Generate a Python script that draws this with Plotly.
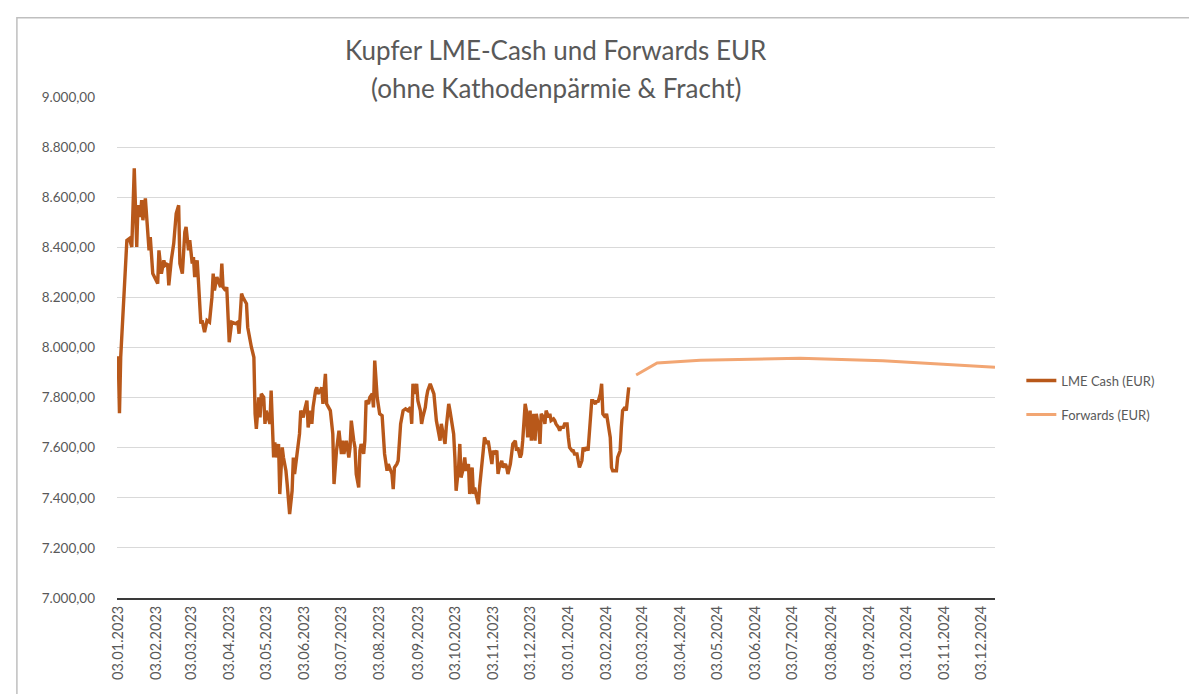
import pandas as pd
import plotly.graph_objects as go

# LME Cash (EUR): days since 03.01.2023 and values
cash_days = [0, 1, 2, 4, 5, 7, 9, 11, 13, 14, 15, 16, 18, 19, 20, 22, 23, 25, 26, 28, 30, 32, 33, 35, 37, 38, 40, 41, 43, 45,
             47, 49, 50, 52, 54, 55, 57, 58, 60, 61, 62, 64, 65, 67, 68, 70, 72, 74, 76, 77, 78, 80, 83, 84, 85, 87, 88, 90, 92, 95,
             97, 98, 100, 101, 104, 105, 108, 110, 111, 112, 114, 115, 116, 118, 119, 120, 123, 124, 126, 127, 128, 130, 131, 133, 134, 136, 137, 139,
             141, 142, 143, 145, 147, 148, 150, 151, 153, 154, 156, 157, 158, 160, 161, 162, 164, 165, 166, 168, 169, 172, 174, 175, 177, 179,
             181, 182, 183, 185, 187, 188, 189, 191, 192, 193, 195, 196, 197, 199, 200, 201, 203, 204, 206, 207, 208, 210, 211, 212, 214, 215,
             216, 218, 219, 220, 222, 223, 224, 226, 227, 229, 231, 233, 235, 237, 238, 239, 241, 242, 243, 245, 246, 247, 249, 250, 251, 253,
             254, 256, 257, 258, 260, 261, 262, 264, 265, 266, 268, 269, 270, 272, 273, 274, 276,
             277, 278, 280, 281, 282, 284, 285, 287, 288, 289, 291, 292, 293, 295, 296, 297, 299, 300, 301, 303, 304, 305, 307, 308, 309, 311,
             312, 314, 315, 316, 318, 319, 320, 322, 323, 324, 326, 327, 328, 330, 331, 332, 334, 335, 337, 338, 339, 341, 342, 343, 345, 346,
             347, 349, 350, 351, 353, 354, 355, 357, 358, 359, 361, 362, 364, 365, 366, 368, 369, 370, 372, 373, 374, 376, 377, 378, 380, 381,
             382, 384, 385, 387, 388, 389, 391, 392, 393, 395, 396, 397, 399, 400, 401, 403, 404, 405, 407, 408, 409, 411, 412, 414]
cash_values = [7965, 7738, 7961, 8161, 8201, 8428, 8435, 8401, 8715, 8495, 8401, 8568, 8521, 8588, 8508, 8595, 8521, 8388, 8441, 8295,
               8275, 8255, 8388, 8295, 8348, 8328, 8335, 8248, 8348, 8415, 8535, 8568, 8335, 8295, 8461, 8481, 8388, 8428, 8335, 8361,
               8281, 8348, 8268, 8095, 8108, 8061, 8108, 8101, 8201, 8295, 8228, 8281, 8241, 8335, 8241, 8228, 8241, 8021, 8101, 8095,
               8101, 8055, 8215, 8201, 8175, 8081, 8001, 7961, 7735, 7675, 7801, 7721, 7815, 7801, 7695, 7748, 7695, 7828, 7561, 7621,
               7561, 7615, 7415, 7601, 7561, 7508, 7455, 7335,
               7428, 7561, 7495, 7588, 7655, 7748, 7721, 7748, 7788, 7681, 7748, 7695, 7761, 7828, 7841, 7815, 7828, 7841, 7775, 7895,
               7775, 7748, 7655, 7455, 7588, 7668, 7575, 7628, 7575, 7628, 7561, 7601, 7708, 7628, 7601, 7495, 7441, 7588, 7615, 7575,
               7628, 7788, 7775, 7801, 7815, 7761, 7948, 7801, 7761, 7735, 7728, 7628, 7575, 7508, 7535, 7521, 7495, 7435, 7521, 7535,
               7548, 7695, 7748, 7755, 7748, 7761, 7695, 7855, 7815, 7855, 7788, 7748, 7695, 7721, 7761, 7801, 7828, 7855, 7841, 7815,
               7761, 7708, 7655, 7628, 7695, 7628, 7615, 7681, 7775, 7748, 7708, 7655, 7561, 7428, 7521,
               7615, 7481, 7521, 7561, 7508, 7535, 7415, 7521, 7415, 7441, 7388, 7375, 7441, 7521, 7588, 7641, 7615, 7628, 7588, 7535,
               7588, 7575, 7588, 7495, 7521, 7548, 7521, 7535, 7521, 7495, 7535, 7588, 7615, 7628, 7588, 7601, 7561, 7575, 7628, 7775,
               7748, 7641, 7748, 7628, 7735, 7628, 7735, 7681, 7615, 7735, 7721, 7695, 7748, 7721, 7735, 7708, 7715, 7708, 7695, 7681,
               7668, 7681, 7681, 7695, 7695, 7641, 7601, 7588, 7588, 7575, 7575, 7548, 7521, 7548, 7601, 7588, 7601, 7588, 7655, 7788,
               7788, 7775, 7788, 7781, 7815, 7855, 7735, 7721, 7735, 7708, 7641, 7521, 7508, 7508, 7508, 7561, 7588, 7681, 7748, 7761,
               7748, 7841]

# Forwards (EUR): days since 03.01.2023 and values
fwd_days = [420, 437, 472, 553, 620, 661, 711]
fwd_values = [7890, 7938, 7949, 7957, 7947, 7936, 7921]

title_lines = ["Kupfer LME-Cash und Forwards EUR", "(ohne Kathodenpärmie & Fracht)"]
series_names = ["LME Cash (EUR)", "Forwards (EUR)"]

base = pd.Timestamp("2023-01-03")
cash_dates = base + pd.to_timedelta(cash_days, unit="D")
fwd_dates = base + pd.to_timedelta(fwd_days, unit="D")

FONT = "Lato, 'Open Sans', sans-serif"
GRAY = "#595959"

fig = go.Figure()
fig.add_trace(go.Scatter(x=cash_dates, y=cash_values, mode="lines", name=series_names[0],
                         legendgroup="a", line=dict(color="#B8581A", width=3.4)))
fig.add_trace(go.Scatter(x=fwd_dates, y=fwd_values, mode="lines", name=series_names[1],
                         legendgroup="b", line=dict(color="#F2A673", width=3)))

fig.update_layout(
    width=1189, height=686,
    margin=dict(l=109, r=202, t=89, b=96),
    paper_bgcolor="white", plot_bgcolor="white",
    separators=",.",
    font=dict(family=FONT, color=GRAY, size=13),
    showlegend=True,
    legend=dict(x=1.03, y=0.40, xanchor="left", yanchor="middle", tracegroupgap=14,
                font=dict(size=13, color=GRAY), bgcolor="rgba(0,0,0,0)"),
    xaxis=dict(type="date", range=["2023-01-02", "2024-12-14"],
               tick0="2023-01-03", dtick="M1", tickformat="%d.%m.%Y", tickangle=-90,
               showgrid=False, showline=True, linecolor="#3a3a3a", linewidth=2,
               ticks="", tickfont=dict(size=14.5, color=GRAY), zeroline=False),
    yaxis=dict(range=[7000, 9000], dtick=200, tickformat=",.2f",
               showgrid=True, gridcolor="#d9d9d9", gridwidth=1, zeroline=False,
               showline=False, ticks="", ticklabelstandoff=21,
               tickfont=dict(size=13.5, color=GRAY)),
)

fig.add_annotation(text=title_lines[0], xref="paper", yref="paper", x=0.5, y=1.094,
                   showarrow=False, font=dict(size=26, color=GRAY), yanchor="middle")
fig.add_annotation(text=title_lines[1], xref="paper", yref="paper", x=0.5, y=1.018,
                   showarrow=False, font=dict(size=26, color=GRAY), yanchor="middle")

# chart area border
fig.add_shape(type="rect", xref="paper", yref="paper", x0=-0.114, x1=1.25, y0=-0.3, y1=1.158,
              line=dict(color="#bfbfbf", width=1.5), fillcolor="rgba(0,0,0,0)", layer="below")

fig.write_html("out.html")
